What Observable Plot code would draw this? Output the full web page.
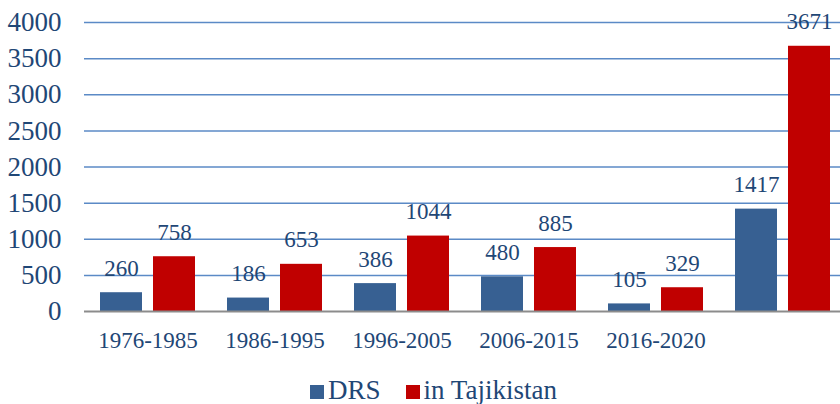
<!DOCTYPE html>
<html>
<head>
<meta charset="utf-8">
<script src="https://cdn.jsdelivr.net/npm/d3@7"></script>
<script src="https://cdn.jsdelivr.net/npm/@observablehq/plot@0.6"></script>
<style>
  html, body { margin: 0; padding: 0; background: white; }
  #legend { margin-top: 10px; padding-left: 310px; font-family: "Liberation Serif", "Times New Roman", serif; font-size: 27px; line-height: 29px; color: #1f4776; white-space: nowrap; }
  #legend .sw { display: inline-block; width: 14px; height: 14px; margin-right: 4px; }
  #legend .item { margin-right: 25px; }
</style>
</head>
<body>
<div id="chart"></div>
<div id="legend"></div>
<script>
const categories = ["1976-1985", "1986-1995", "1996-2005", "2006-2015", "2016-2020", "Total"];
const tickLabels = ["1976-1985", "1986-1995", "1996-2005", "2006-2015", "2016-2020", ""];
const drs = [260, 186, 386, 480, 105, 1417];
const tajik = [758, 653, 1044, 885, 329, 3671];
const series = ["DRS", "in Tajikistan"];
const colors = ["#376092", "#C00000"];
const yTicks = [0, 500, 1000, 1500, 2000, 2500, 3000, 3500, 4000];

const data = categories.flatMap((c, i) => [
  {cat: c, series: series[0], value: drs[i]},
  {cat: c, series: series[1], value: tajik[i]}
]);

const textColor = "#1f4776";

const chart = Plot.plot({
  width: 840,
  height: 366,
  marginLeft: 83,
  marginRight: -7,
  marginTop: 22,
  marginBottom: 55,
  style: {fontFamily: "'Liberation Serif', 'Times New Roman', serif", background: "white", color: textColor},
  fx: {domain: categories, padding: 0},
  x: {domain: series, axis: null, paddingInner: 0.213, paddingOuter: 0.288},
  y: {domain: [0, 4000]},
  color: {domain: series, range: colors},
  marks: [
    Plot.ruleY(yTicks.filter(d => d > 0), {stroke: "#5B8AC6", strokeWidth: 1.5}),
    Plot.barY(data, {fx: "cat", x: "series", y: "value", fill: "series"}),
    Plot.ruleY([0], {stroke: "#8C8C8C", strokeWidth: 2}),
    Plot.text(data, {fx: "cat", x: "series", y: "value", text: d => String(d.value), lineAnchor: "bottom", dy: -17, fontSize: 23, fill: textColor}),
    Plot.axisY({ticks: yTicks, tickFormat: d => String(d), tickSize: 0, tickPadding: 23, fontSize: 27, label: null, fill: textColor}),
    Plot.axisFx({anchor: "bottom", tickSize: 0, tickPadding: 20, fontSize: 23, label: null, fill: textColor,
      tickFormat: d => tickLabels[categories.indexOf(d)]})
  ]
});
document.getElementById("chart").appendChild(chart);

const legend = document.getElementById("legend");
series.forEach((s, i) => {
  const item = document.createElement("span");
  item.className = "item";
  const sw = document.createElement("span");
  sw.className = "sw";
  sw.style.background = colors[i];
  item.appendChild(sw);
  item.appendChild(document.createTextNode(s));
  legend.appendChild(item);
});
</script>
</body>
</html>
